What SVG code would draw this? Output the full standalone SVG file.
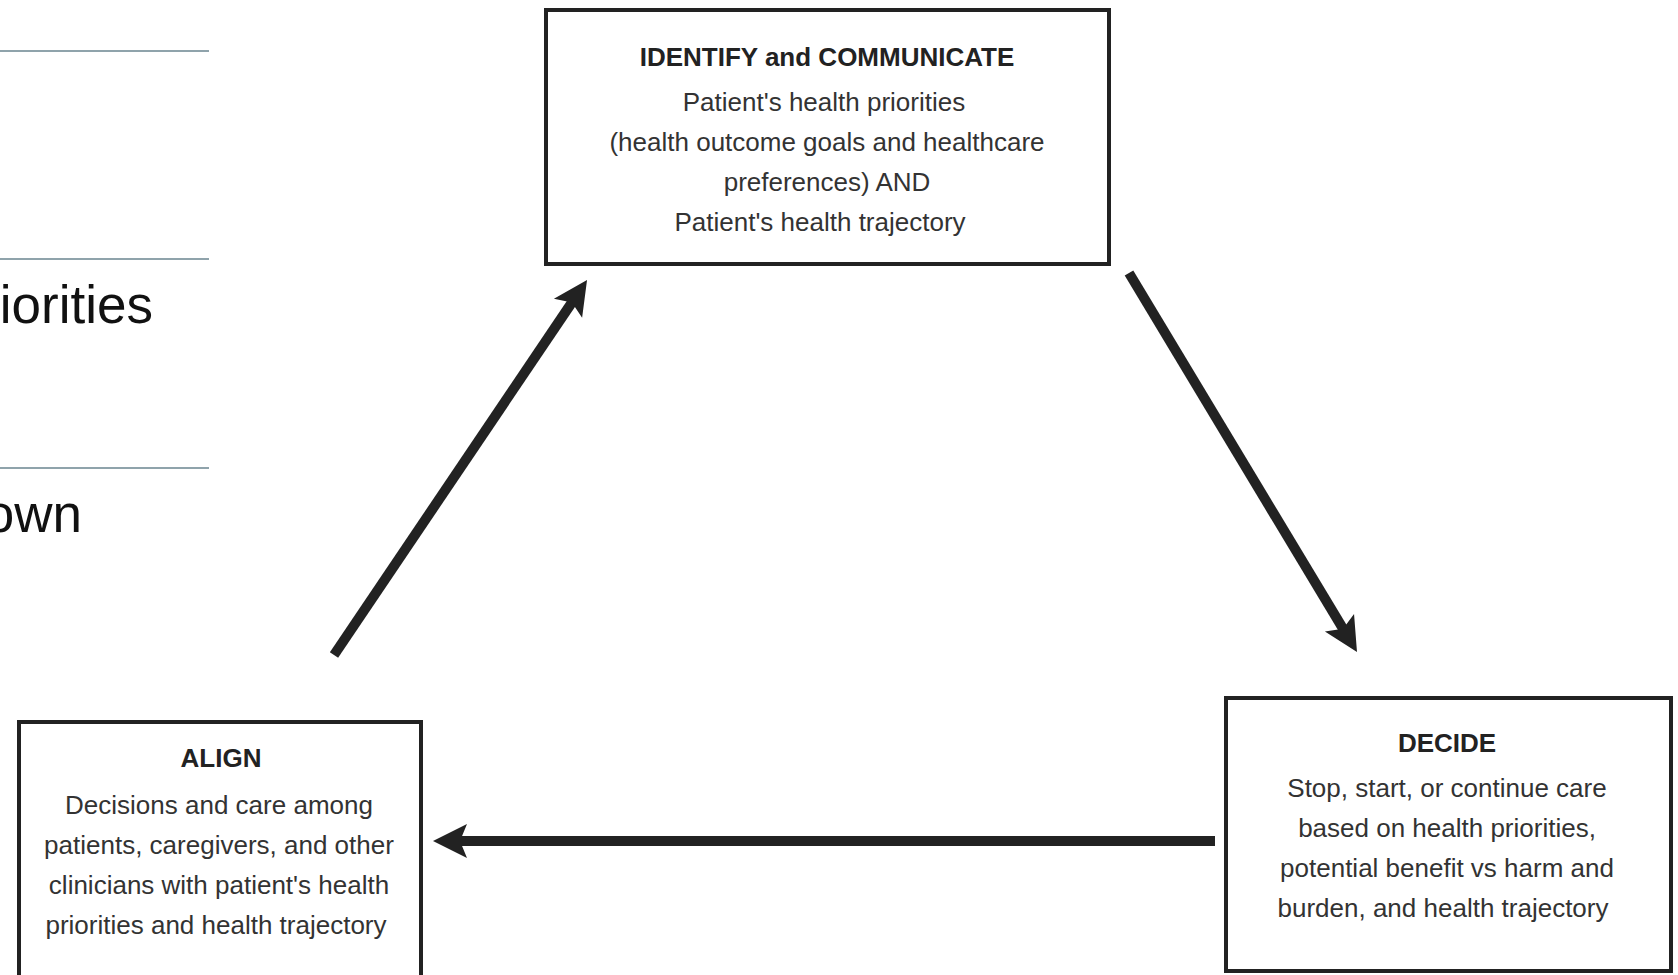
<svg xmlns="http://www.w3.org/2000/svg" width="1678" height="975" viewBox="0 0 1678 975">
<style>
.box{fill:#fff;stroke:#222;stroke-width:4}
.t{font-family:"Liberation Sans",Arial,sans-serif;font-size:26px;fill:#333;text-anchor:middle}
.b{font-weight:bold;fill:#222}
.big{font-family:"Liberation Sans",Arial,sans-serif;font-size:53px;fill:#111;text-anchor:end}
.rule{stroke:#8fa3ab;stroke-width:2}
.arr{stroke:#222;stroke-width:10;fill:none;marker-end:url(#ah)}
</style>
<defs>
<marker id="ah" markerUnits="userSpaceOnUse" viewBox="-12 -20 44 40" markerWidth="44" markerHeight="40" refX="0" refY="0" orient="auto">
<path d="M26,0 L-8,-17 L-1,0 L-8,17 Z" fill="#222"/>
</marker>
</defs>
<rect width="1678" height="975" fill="#fff"/>
<g id="slide-bg">
<line class="rule" x1="0" y1="51" x2="209" y2="51"/>
<line class="rule" x1="0" y1="259" x2="209" y2="259"/>
<line class="rule" x1="0" y1="468" x2="209" y2="468"/>
<text class="big" x="153" y="323">iorities</text>
<text class="big" x="82" y="532">own</text>
</g>
<g id="connectors">
<line class="arr" x1="334" y1="655" x2="572.5" y2="301.6"/>
<line class="arr" x1="1129" y1="273" x2="1343.6" y2="629.7"/>
<line class="arr" x1="1215" y1="841" x2="459" y2="841"/>
</g>
<g id="identify">
<rect class="box" x="546" y="10" width="563" height="254"/>
<text class="t b" x="827" y="66">IDENTIFY and COMMUNICATE</text>
<text class="t" x="824" y="111">Patient's health priorities</text>
<text class="t" x="827" y="151">(health outcome goals and healthcare</text>
<text class="t" x="827" y="191">preferences) AND</text>
<text class="t" x="820" y="231">Patient's health trajectory</text>
</g>
<g id="align">
<rect class="box" x="19" y="722" width="402" height="258"/>
<text class="t b" x="221" y="767">ALIGN</text>
<text class="t" x="219" y="814">Decisions and care among</text>
<text class="t" x="219" y="854">patients, caregivers, and other</text>
<text class="t" x="219" y="894">clinicians with patient's health</text>
<text class="t" x="216" y="934">priorities and health trajectory</text>
</g>
<g id="decide">
<rect class="box" x="1226" y="698" width="445" height="273"/>
<text class="t b" x="1447" y="752">DECIDE</text>
<text class="t" x="1447" y="797">Stop, start, or continue care</text>
<text class="t" x="1447" y="837">based on health priorities,</text>
<text class="t" x="1447" y="877">potential benefit vs harm and</text>
<text class="t" x="1443" y="917">burden, and health trajectory</text>
</g>
</svg>
